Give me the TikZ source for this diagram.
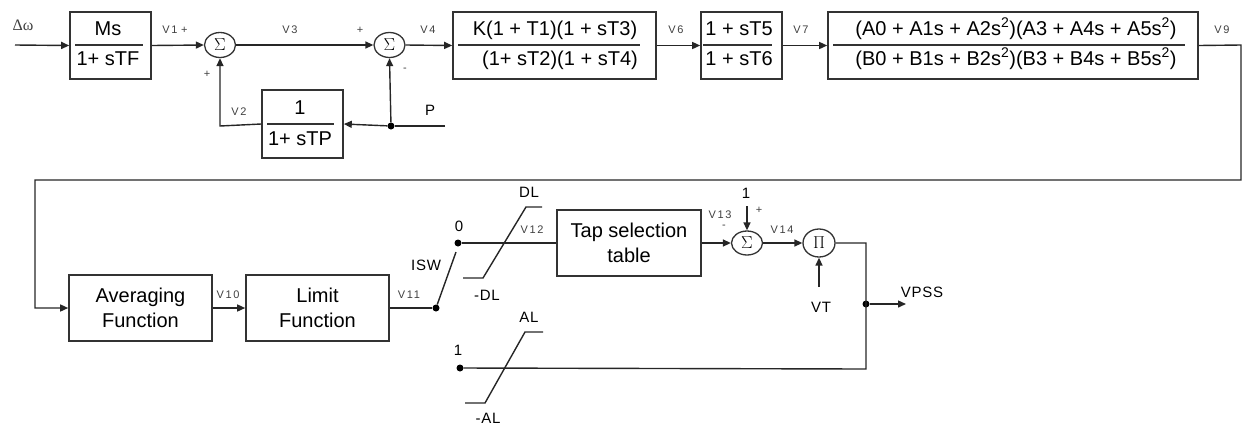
\documentclass[tikz,border=0pt]{standalone}
\usepackage{fontspec}
\setmainfont{Liberation Sans}
\newfontfamily\greekserif{Liberation Serif}
\usetikzlibrary{arrows.meta,shapes.geometric}
\begin{document}
\begin{tikzpicture}[x=1pt,y=-1pt,
  blk/.style={draw=black!80,line width=1.6pt,inner sep=0pt,minimum height=67pt},
  sumn/.style={draw=black!80,ellipse,line width=1.3pt,inner sep=0pt,minimum width=31pt,minimum height=25pt,font=\fontsize{17}{18}\selectfont},
  wire/.style={black!85,line width=1.4pt},
  arr/.style={wire,-{Triangle[length=8pt,width=7pt]}},
  bigt/.style={font=\fontsize{20}{24}\selectfont,inner sep=0pt,anchor=base},
  midt/.style={font=\fontsize{15}{18}\selectfont\addfontfeatures{LetterSpace=5},inner sep=0pt},
  smlt/.style={font=\fontsize{11}{13}\selectfont\addfontfeatures{LetterSpace=15},text=black!75,inner sep=0pt},
  dotn/.style={circle,fill=black,inner sep=0pt,minimum size=7pt},
  frac/.style={black!80,line width=1.4pt},
]
\useasboundingbox (0,0) rectangle (1242,424);

% ---------- top row blocks ----------
\node[blk,minimum width=81pt] (ms) at (110.5,45.5) {};
\node[bigt] (msn) at (108,35) {Ms};
\node[bigt] (msd) at (108,65) {1+ sTF};
\draw[frac] (75,45) -- (143,45);

\node[sumn] (s1) at (220,45) {$\Sigma$};
\node[sumn] (s2) at (389.5,45) {$\Sigma$};

\node[blk,minimum width=81pt,minimum height=68pt] (tp) at (302.5,124) {};
\node[bigt] (tpn) at (300,114) {1};
\node[bigt] (tpd) at (300,145) {1+ sTP};
\draw[frac] (267,124) -- (334,124);

\node[blk,minimum width=203pt] (kb) at (554.5,45.5) {};
\node[bigt] (kn) at (555,35) {K(1 + T1)(1 + sT3)};
\node[bigt] (kd) at (560,65) {(1+ sT2)(1 + sT4)};
\draw[frac] (458,45) -- (640,45);

\node[blk,minimum width=81pt] (t5) at (741.5,45.5) {};
\node[bigt] (t5n) at (739,35) {1 + sT5};
\node[bigt] (t5d) at (739,65) {1 + sT6};
\draw[frac] (703,45) -- (772,45);

\node[blk,minimum width=370pt] (bg) at (1013,45.5) {};
\node[bigt] (bgn) at (1016,35) {(A0 + A1s + A2s\textsuperscript{2})(A3 + A4s + A5s\textsuperscript{2})};
\node[bigt] (bgd) at (1016,65) {(B0 + B1s + B2s\textsuperscript{2})(B3 + B4s + B5s\textsuperscript{2})};
\draw[frac] (833,45) -- (1185,45);

% ---------- bottom row blocks ----------
\node[blk,minimum width=143pt,minimum height=66pt,align=center,font=\fontsize{20}{25}\selectfont] (avg) at (140.5,308) {Averaging\\Function};
\node[blk,minimum width=143pt,minimum height=66pt,align=center,font=\fontsize{20}{25}\selectfont] (lim) at (317.5,308) {Limit\\Function};
\node[blk,minimum width=144pt,minimum height=66pt,align=center,font=\fontsize{20}{25}\selectfont] (tap) at (629,243) {Tap selection\\table};

\node[sumn,minimum height=24pt] (s3) at (747,243) {$\Sigma$};
\node[sumn,minimum width=32pt,minimum height=28pt] (pi) at (819,243) {$\Pi$};

% ---------- coordinates and dots ----------
\coordinate (in) at (15,45);
\coordinate (c1) at (1241,45);
\coordinate (c2) at (1241,180);
\coordinate (c3) at (35,180);
\coordinate (c4) at (35,308);
\coordinate (pin) at (445,126);
\node[dotn] (j1) at (391,126) {};
\coordinate (fb) at (220,126);
\node[dotn] (sw1) at (436,308) {};
\coordinate (blade) at (456,252);
\node[dotn] (sw0) at (458,243) {};
\coordinate (one) at (747,206);
\coordinate (vt) at (819,287);
\coordinate (o1) at (866,243);
\node[dotn] (j2) at (866,304) {};
\coordinate (o2) at (866,369);
\node[dotn] (d1) at (460,368) {};
\coordinate (vpss) at (906,304);

% ---------- connectors ----------
\draw[arr] (in) -- (ms.west);
\draw[arr] (ms.east) -- (s1.west);
\draw[arr] (s1.east) -- (s2.west);
\draw[arr] (s2.east) -- (kb.west);
\draw[arr] (kb.east) -- (t5.west);
\draw[arr] (t5.east) -- (bg.west);
\draw[arr] (bg.east) -- (c1) -- (c2) -- (c3) -- (c4) -- (avg.west);
\draw[arr] (avg.east) -- (lim.west);
\draw[wire] (lim.east) -- (sw1);
\draw[wire] (sw1) -- (blade);
\draw[wire] (sw0) -- (tap.west);
\draw[arr] (tap.east) -- (s3.west);
\draw[arr] (one) -- (s3.north);
\draw[arr] (s3.east) -- (pi.west);
\draw[arr] (vt) -- (pi.south);
\draw[wire] (pi.east) -- (o1) -- (o2) -- (d1);
\draw[arr] (j2) -- (vpss);
\draw[wire] (pin) -- (j1);
\draw[arr] (j1) -- (tp.east);
\draw[arr] (j1) -- (s2.south);
\draw[arr] (tp.west) -- (fb) -- (s1.south);

% ---------- limiters ----------
\draw[wire] (542,207) -- (526,207) -- (483,278) -- (463,278);
\draw[wire] (543,332) -- (525,332) -- (485,403) -- (465,403);

% ---------- labels ----------
\node[smlt,font=\greekserif\fontsize{16}{18}\selectfont] (lw) at (23,25) {Δω};
\node[smlt] (lv1) at (175,30) {V1\,\,+};
\node[smlt] (lp1) at (207,74) {+};
\node[smlt] (lv3) at (290,30) {V3};
\node[smlt] (lp2) at (360,30) {+};
\node[smlt] (lm2) at (405,70) {-};
\node[smlt] (lv4) at (428,30) {V4};
\node[smlt] (lv6) at (676,30) {V6};
\node[smlt] (lv7) at (801,30) {V7};
\node[smlt] (lv9) at (1222,30) {V9};
\node[smlt] (lv2) at (239,112) {V2};
\node[midt] (lp) at (430,110) {P};
\node[smlt] (lv10) at (228,295) {V10};
\node[smlt] (lv11) at (409,295) {V11};
\node[midt] (lisw) at (426,265) {ISW};
\node[midt] (l0) at (459,226) {0};
\node[midt] (ldl) at (529,192) {DL};
\node[midt] (lmdl) at (487,295) {-DL};
\node[smlt] (lv12) at (532,230) {V12};
\node[smlt] (lv13) at (720,215) {V13};
\node[smlt] (lm3) at (724,227) {-};
\node[midt] (l1a) at (746,193) {1};
\node[smlt] (lp3) at (759,210) {+};
\node[smlt] (lv14) at (782,230) {V14};
\node[midt] (lvt) at (821,307) {VT};
\node[midt] (lvpss) at (922,292) {VPSS};
\node[midt] (l1b) at (458,350) {1};
\node[midt] (lal) at (529,317) {AL};
\node[midt] (lmal) at (488,418) {-AL};
\end{tikzpicture}
\end{document}
